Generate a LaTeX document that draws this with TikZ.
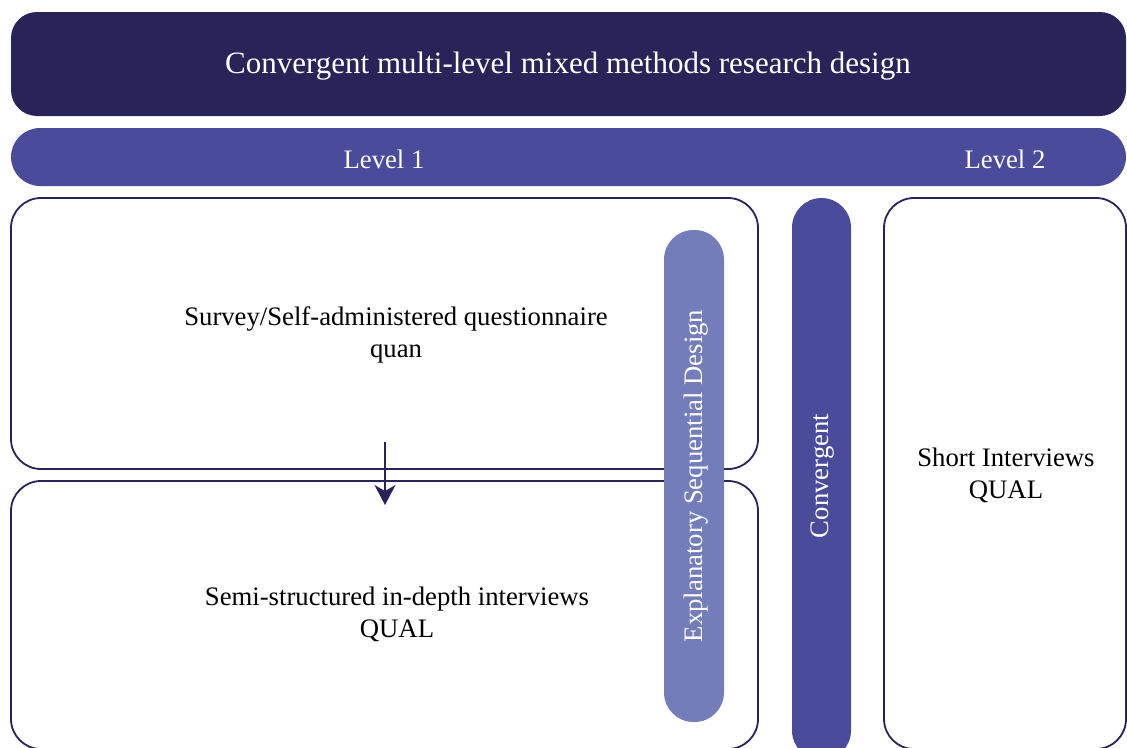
\documentclass[tikz,border=0pt]{standalone}
\usepackage{fontspec}
\setmainfont{Liberation Serif}
\usetikzlibrary{arrows.meta}
\definecolor{navy}{HTML}{28245A}
\definecolor{midblue}{HTML}{4A4B9B}
\definecolor{lightblue}{HTML}{727DBA}
\tikzset{
  outlinebox/.style={draw=navy, line width=1.8pt, fill=white, rounded corners=30pt},
  bodytext/.style={font=\fontsize{26.7}{32}\selectfont, align=center, text=black},
  whitetext/.style={font=\fontsize{26.7}{32}\selectfont, align=center, text=white},
}
\begin{document}
\begin{tikzpicture}[x=1pt,y=-1pt]
\useasboundingbox (0,0) rectangle (1127,747);
\clip (0,0) rectangle (1127,747);
% title
\fill[navy, rounded corners=26pt] (11,12) rectangle (1126,116);
\node[font=\fontsize{31}{36}\selectfont, text=white] (title) at (568,66) {Convergent multi-level mixed methods research design};
% level bar
\fill[midblue, rounded corners=29pt] (11,128) rectangle (1126,186);
\node[whitetext] (lvl1) at (384,159) {Level 1};
\node[whitetext] (lvl2) at (1005,159) {Level 2};
% left boxes
\draw[outlinebox] (11,198) rectangle (758,469);
\draw[outlinebox] (11,481) rectangle (758,749);
\node[bodytext] (survey) at (396,335) {Survey/Self-administered questionnaire\\quan};
\node[bodytext] (semi) at (397,614) {Semi-structured in-depth interviews\\QUAL};
% arrow
\coordinate (astart) at (385,442);
\coordinate (aend) at (385,505);
\draw[navy, line width=1.8pt, -{Stealth[length=20pt,width=21pt,inset=6pt]}] (astart) -- (aend);
% explanatory pill
\fill[lightblue, rounded corners=29.5pt] (664,230) rectangle (724,722);
\node[whitetext, rotate=90] (expl) at (696,476) {Explanatory Sequential Design};
% convergent pill
\fill[midblue, rounded corners=29.5pt] (792,198) rectangle (851,760);
\node[whitetext, rotate=90] (conv) at (823,476) {Convergent};
% right box
\draw[outlinebox] (884,198) rectangle (1126,749);
\node[bodytext] (short) at (1006,475) {Short Interviews\\QUAL};
\end{tikzpicture}
\end{document}
